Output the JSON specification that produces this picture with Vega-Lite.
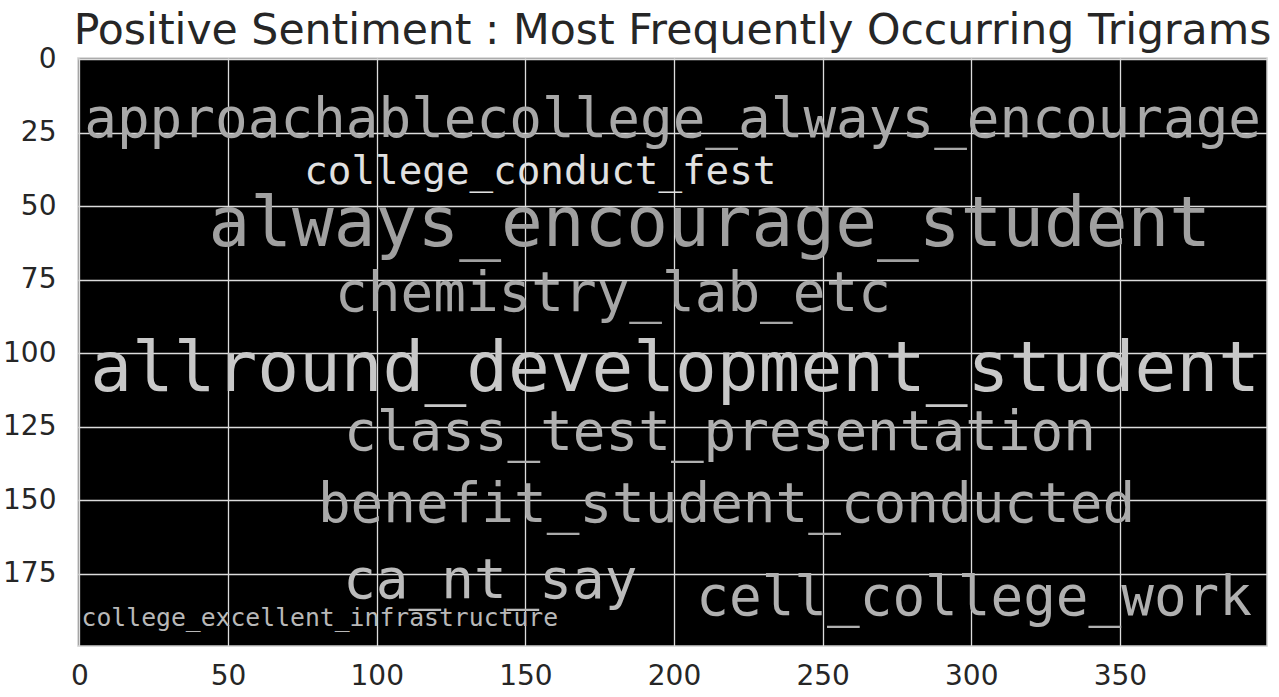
{
  "$schema": "https://vega.github.io/schema/vega-lite/v6.json",
  "autosize": "none",
  "width": 1189,
  "height": 588,
  "padding": {"left": 78, "top": 58, "right": 12, "bottom": 51},
  "background": "#ffffff",
  "title": {
    "text": "Positive Sentiment : Most Frequently Occurring Trigrams",
    "font": "DejaVu Sans",
    "fontSize": 42.6,
    "fontWeight": "normal",
    "color": "#262626",
    "anchor": "middle",
    "frame": "group",
    "baseline": "alphabetic",
    "offset": -41
  },
  "config": {
    "view": {"fill": "#000000", "stroke": "#d0d0d0", "strokeWidth": 1.5},
    "axis": {
      "domain": false,
      "ticks": false,
      "grid": true,
      "gridColor": "#dcdcdc",
      "gridWidth": 1.3,
      "labelFont": "DejaVu Sans",
      "labelFontSize": 28,
      "labelColor": "#262626",
      "labelFlush": false,
      "labelOverlap": false,
      "title": null,
      "zindex": 1
    },
    "axisX": {"labelPadding": 16},
    "axisY": {"labelPadding": 22}
  },
  "data": {
    "values": [
      {"word": "approachablecollege_always_encourage", "x": 1.6, "y": 26.4, "size": 18, "grey": 168},
      {"word": "college_conduct_fest", "x": 75.6, "y": 42.4, "size": 13, "grey": 225},
      {"word": "always_encourage_student", "x": 43.4, "y": 63.6, "size": 23, "grey": 160},
      {"word": "chemistry_lab_etc", "x": 86.0, "y": 85.6, "size": 18, "grey": 166},
      {"word": "allround_development_student", "x": 3.6, "y": 112.8, "size": 23, "grey": 200},
      {"word": "class_test_presentation", "x": 89.0, "y": 133.0, "size": 18, "grey": 176},
      {"word": "benefit_student_conducted", "x": 80.2, "y": 157.3, "size": 18, "grey": 170},
      {"word": "ca_nt_say", "x": 88.7, "y": 183.2, "size": 18, "grey": 187},
      {"word": "cell_college_work", "x": 207.5, "y": 189.0, "size": 18, "grey": 176},
      {"word": "college_excellent_infrastructure", "x": 0.7, "y": 192.8, "size": 8.2, "grey": 184}
    ]
  },
  "mark": {"type": "text", "align": "left", "baseline": "alphabetic", "font": "DejaVu Sans Mono", "clip": true},
  "encoding": {
    "text": {"field": "word"},
    "x": {
      "field": "x", "type": "quantitative",
      "scale": {"domain": [-0.5, 399.5], "nice": false, "zero": false},
      "axis": {"values": [0, 50, 100, 150, 200, 250, 300, 350]}
    },
    "y": {
      "field": "y", "type": "quantitative",
      "scale": {"domain": [-0.5, 199.5], "nice": false, "zero": false, "reverse": true},
      "axis": {"values": [0, 25, 50, 75, 100, 125, 150, 175]}
    },
    "size": {
      "field": "size", "type": "quantitative",
      "scale": {"domain": [0, 23], "range": [0, 69.4], "zero": true},
      "legend": null
    },
    "color": {
      "field": "grey", "type": "quantitative",
      "scale": {"domain": [0, 255], "range": ["#000000", "#ffffff"], "interpolate": "rgb"},
      "legend": null
    }
  }
}
